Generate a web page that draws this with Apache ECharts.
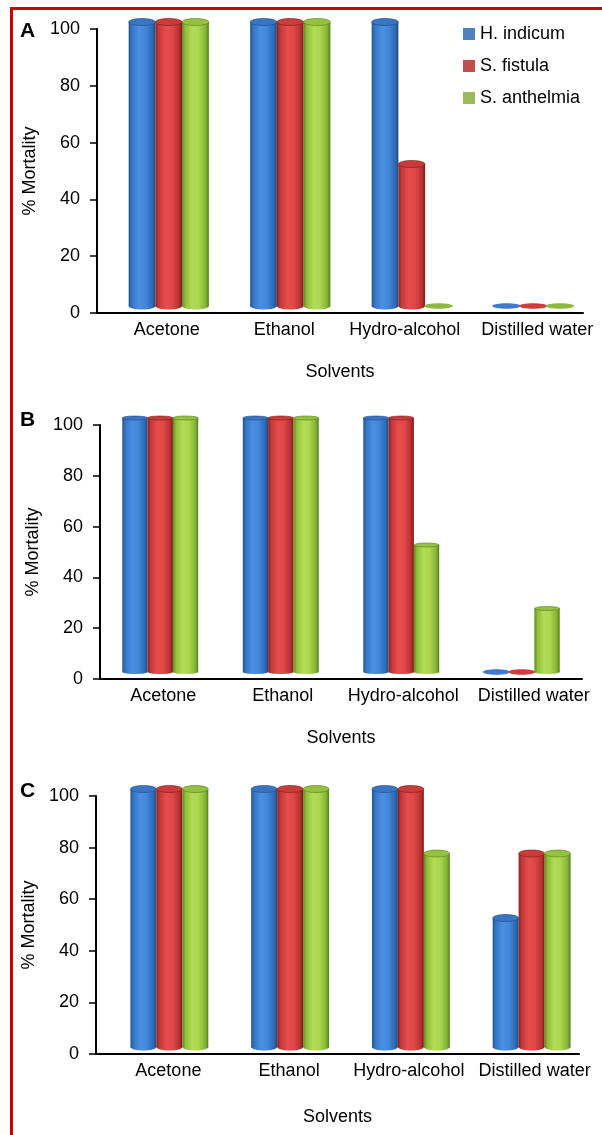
<!DOCTYPE html>
<html>
<head>
<meta charset="utf-8">
<script src="https://cdn.jsdelivr.net/npm/echarts@6/dist/echarts.min.js"></script>
<style>
html,body{margin:0;padding:0;background:#fff;}
#chart{width:602px;height:1135px;}
</style>
</head>
<body>
<div id="chart"></div>
<script>
// ---- data ----
const categories = ['Acetone', 'Ethanol', 'Hydro-alcohol', 'Distilled water'];
const seriesNames = ['H. indicum', 'S. fistula', 'S. anthelmia'];
const yTicks = [0, 20, 40, 60, 80, 100];
const panelLetters = ['A', 'B', 'C'];
// Panel A
const A_hIndicum = [100, 100, 100, 0];
const A_sFistula = [100, 100, 50, 0];
const A_sAnthelmia = [100, 100, 0, 0];
// Panel B
const B_hIndicum = [100, 100, 100, 0];
const B_sFistula = [100, 100, 100, 0];
const B_sAnthelmia = [100, 100, 50, 25];
// Panel C
const C_hIndicum = [100, 100, 100, 50];
const C_sFistula = [100, 100, 100, 75];
const C_sAnthelmia = [100, 100, 75, 75];

const panelData = [
  [A_hIndicum, A_sFistula, A_sAnthelmia],
  [B_hIndicum, B_sFistula, B_sAnthelmia],
  [C_hIndicum, C_sFistula, C_sAnthelmia]
];

// ---- styles ----
const FONT = '"Liberation Sans", Arial, Helvetica, sans-serif';
const legendColors = ['#4F81BD', '#C0504D', '#9BBB59'];
const grads = [
  [['#24548f', 0], ['#3676c4', 0.12], ['#4a8fe2', 0.38], ['#4288da', 0.62], ['#2f6ab5', 0.88], ['#1f4c85', 1]],
  [['#8c1f1f', 0], ['#c23838', 0.12], ['#e64c4c', 0.38], ['#e04848', 0.62], ['#b83232', 0.88], ['#7d1a1a', 1]],
  [['#5e8a1f', 0], ['#8fbf3a', 0.12], ['#b3dc55', 0.38], ['#acd64f', 0.62], ['#86b534', 0.88], ['#547d1b', 1]]
];
const topColors = ['#3a74c2', '#c83c3c', '#94c23e'];
const flatColors = ['#3f7acc', '#cf3c3c', '#8cba3e'];

const grids = [
  {left: 97, width: 486, top: 29, height: 284},
  {left: 100, width: 482, top: 425, height: 254},
  {left: 96, width: 483, top: 796, height: 258}
];
const shift3d = [{dx: 11, dy: -7, wf: 0.22, ry: 3.5}, {dx: 0, dy: -7, wf: 0.21, ry: 2}, {dx: 13, dy: -7, wf: 0.215, ry: 3.5}];
const labelShift = [[9, 5, 4, 15], [3, 2, 2, 12], [12, 12, 11, 16]];
const nameGapX = [50, 50, 54];

function gradient(si) {
  return new echarts.graphic.LinearGradient(0, 0, 1, 0,
    grads[si].map(s => ({offset: s[1], color: s[0]})));
}

function makeRender(pi, si) {
  const s = shift3d[pi];
  return function (params, api) {
    const cat = api.value(0), val = api.value(1);
    const base = api.coord([cat, 0]);
    const top = api.coord([cat, val]);
    const band = api.size([1, 0])[0];
    const w = band * s.wf;
    const cx = base[0] + (si - 1) * w + s.dx;
    const x0 = cx - w / 2;
    const yb = base[1] + s.dy;
    const yt = top[1] + s.dy;
    if (val <= 0) {
      return {
        type: 'ellipse',
        shape: {cx: cx, cy: yb, rx: w / 2 + 1, ry: 2.8},
        style: {fill: flatColors[si]}
      };
    }
    return {
      type: 'group',
      children: [
        {type: 'ellipse', shape: {cx: cx, cy: yb, rx: w / 2, ry: s.ry}, style: {fill: gradient(si)}},
        {type: 'rect', shape: {x: x0, y: yt, width: w, height: yb - yt}, style: {fill: gradient(si)}},
        {type: 'ellipse', shape: {cx: cx, cy: yt, rx: w / 2, ry: s.ry},
          style: {fill: topColors[si], stroke: grads[si][5][0], lineWidth: 0.6}}
      ]
    };
  };
}

const option = {
  animation: false,
  backgroundColor: '#ffffff',
  textStyle: {fontFamily: FONT},
  legend: {
    data: seriesNames,
    orient: 'vertical',
    left: 458,
    top: 20,
    itemWidth: 12,
    itemHeight: 12,
    itemGap: 14,
    icon: 'rect',
    textStyle: {fontSize: 18, color: '#000', fontFamily: FONT},
    selectedMode: false
  },
  grid: grids.map(g => Object.assign({containLabel: false}, g)),
  xAxis: grids.map((g, pi) => ({
    type: 'category',
    gridIndex: pi,
    data: categories,
    name: 'Solvents',
    nameLocation: 'middle',
    nameGap: nameGapX[pi],
    nameTextStyle: {fontSize: 18, color: '#000', fontFamily: FONT},
    axisLine: {lineStyle: {color: '#000', width: 2}},
    axisTick: {show: false},
    axisLabel: {
      interval: 0,
      margin: 8,
      fontSize: 18,
      color: '#000',
      fontFamily: FONT,
      formatter: function (v, i) { return '{s' + i + '|' + v + '}'; },
      rich: {
        s0: {fontSize: 18, fontFamily: FONT, color: '#000', padding: [0, 0, 0, labelShift[pi][0] * 2]},
        s1: {fontSize: 18, fontFamily: FONT, color: '#000', padding: [0, 0, 0, labelShift[pi][1] * 2]},
        s2: {fontSize: 18, fontFamily: FONT, color: '#000', padding: [0, 0, 0, labelShift[pi][2] * 2]},
        s3: {fontSize: 18, fontFamily: FONT, color: '#000', padding: [0, 0, 0, labelShift[pi][3] * 2]}
      }
    },
    splitLine: {show: false}
  })),
  yAxis: grids.map((g, pi) => ({
    type: 'value',
    gridIndex: pi,
    min: yTicks[0],
    max: yTicks[yTicks.length - 1],
    interval: yTicks[1] - yTicks[0],
    name: '% Mortality',
    nameLocation: 'middle',
    nameGap: 57,
    nameTextStyle: {fontSize: 18, color: '#000', fontFamily: FONT},
    axisLine: {show: true, lineStyle: {color: '#000', width: 2}},
    axisTick: {show: true, inside: false, length: 7, lineStyle: {color: '#000', width: 1.5}},
    axisLabel: {margin: 17, fontSize: 18, color: '#000', fontFamily: FONT},
    splitLine: {show: false}
  })),
  series: [],
  graphic: [
    {type: 'line', shape: {x1: 10, y1: 8.5, x2: 602, y2: 8.5}, style: {stroke: '#cc0000', lineWidth: 3}, silent: true},
    {type: 'line', shape: {x1: 11.5, y1: 7, x2: 11.5, y2: 1135}, style: {stroke: '#cc0000', lineWidth: 3}, silent: true},
    {type: 'text', left: 20, top: 21, style: {text: panelLetters[0], font: 'bold 21px ' + FONT, fill: '#000'}},
    {type: 'text', left: 20, top: 410, style: {text: panelLetters[1], font: 'bold 21px ' + FONT, fill: '#000'}},
    {type: 'text', left: 20, top: 781, style: {text: panelLetters[2], font: 'bold 21px ' + FONT, fill: '#000'}}
  ]
};

panelData.forEach((arrs, pi) => {
  arrs.forEach((vals, si) => {
    option.series.push({
      type: 'custom',
      name: seriesNames[si],
      xAxisIndex: pi,
      yAxisIndex: pi,
      itemStyle: {color: legendColors[si]},
      renderItem: makeRender(pi, si),
      encode: {x: 0, y: 1},
      data: vals.map((v, i) => [i, v]),
      clip: false,
      z: 2
    });
  });
});

const chart = echarts.init(document.getElementById('chart'), null, {renderer: 'canvas'});
chart.setOption(option);
</script>
</body>
</html>
